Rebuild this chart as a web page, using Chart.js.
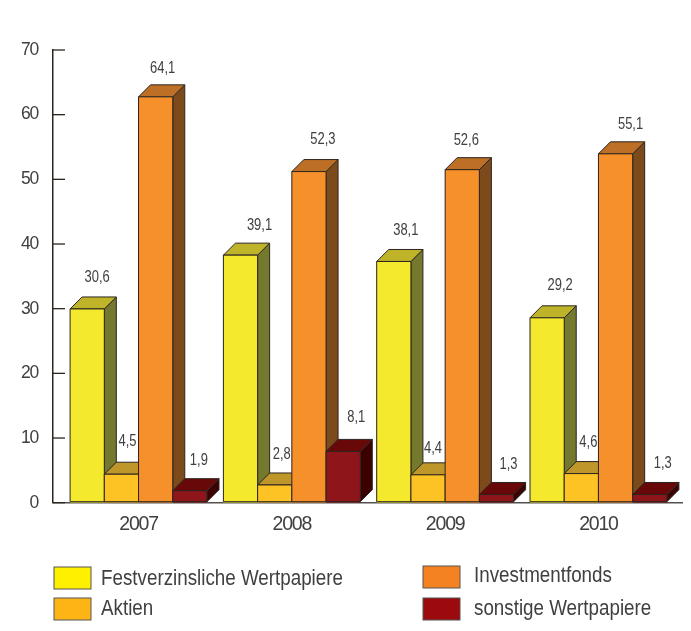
<!DOCTYPE html>
<html><head><meta charset="utf-8">
<style>html,body{margin:0;padding:0;background:#fff}canvas{display:block}</style>
<script src="https://cdn.jsdelivr.net/npm/chart.js@4/dist/chart.umd.min.js"></script>
</head><body>
<canvas id="c" width="691" height="631"></canvas>
<script>
const years = [2007, 2008, 2009, 2010];
const festverzinslich = [30.6, 39.1, 38.1, 29.2];
const aktien = [4.5, 2.8, 4.4, 4.6];
const investmentfonds = [64.1, 52.3, 52.6, 55.1];
const sonstige = [1.9, 8.1, 1.3, 1.3];
const yTicks = [0, 10, 20, 30, 40, 50, 60, 70];
const seriesNames = ['Festverzinsliche Wertpapiere', 'Aktien', 'Investmentfonds', 'sonstige Wertpapiere'];

const FONT = '"Liberation Sans",sans-serif';
const TEXT = '#404042';
const LINE = '#2b2520';
const DEPTH = 12;
const faces = [
  {front:'#f4e92c', top:'#bfb32a', side:'#74792d', swatch:'#fff000'},
  {front:'#fdc224', top:'#bf962a', side:'#7a6a20', swatch:'#fdb515'},
  {front:'#f6902a', top:'#bd6f26', side:'#7d4b1b', swatch:'#f58220'},
  {front:'#8e1519', top:'#690808', side:'#3c0202', swatch:'#9d0a0e'}
];
const legendSpots = [[54,567,101,579],[54,598,101,609],[423,566,474,576],[423,598,474,609]];
// label placement relative to the top of each bar, series by year: [dx, dy]
const labelShifts = [
  [[10,-31],[19,-30],[12,-31],[13,-32]],
  [[6,-33],[7,-30],[5,-26],[7,-31]],
  [[7,-28],[14,-32],[4,-29],[15,-29]],
  [[9,-30],[13,-34],[12,-30],[13,-31]]
];

function poly(ctx, pts, fill){
  ctx.beginPath();
  pts.forEach((p,i)=> i ? ctx.lineTo(p[0],p[1]) : ctx.moveTo(p[0],p[1]));
  ctx.closePath();
  ctx.fillStyle = fill; ctx.fill();
  ctx.lineWidth = 1; ctx.strokeStyle = LINE; ctx.stroke();
}
function narrowText(ctx, str, x, y, sx){
  ctx.save();
  ctx.translate(x,y);
  ctx.scale(sx,1);
  ctx.fillText(str,0,0);
  ctx.restore();
}

const bars3d = {
  id:'bars3d',
  beforeDraw(chart){ chart.ctx.letterSpacing = '-1.2px'; },
  afterDatasetsDraw(chart){
    const ctx = chart.ctx;
    ctx.save();
    ctx.letterSpacing = '0px';
    chart.data.datasets.forEach((ds,i)=>{
      chart.getDatasetMeta(i).data.forEach(el=>{
        const l = el.x - el.width/2, r = el.x + el.width/2, t = el.y, b = el.base - 1;
        const f = faces[i];
        poly(ctx, [[r,t],[r+DEPTH,t-DEPTH],[r+DEPTH,b-DEPTH],[r,b]], f.side);
        poly(ctx, [[l,t],[l+DEPTH,t-DEPTH],[r+DEPTH,t-DEPTH],[r,t]], f.top);
        poly(ctx, [[l,t],[r,t],[r,b],[l,b]], f.front);
      });
    });
    ctx.font = '16px '+FONT;
    ctx.fillStyle = TEXT;
    ctx.textAlign = 'center';
    ctx.textBaseline = 'middle';
    chart.data.datasets.forEach((ds,i)=>{
      chart.getDatasetMeta(i).data.forEach((el,k)=>{
        const s = labelShifts[i][k];
        narrowText(ctx, String(ds.data[k].y).replace('.',','), el.x + s[0], el.y + s[1], 0.81);
      });
    });
    const y = chart.scales.y, x0 = chart.chartArea.left;
    ctx.strokeStyle = LINE; ctx.lineWidth = 1.3;
    y.ticks.forEach((t,k)=>{
      const p = y.getPixelForTick(k);
      ctx.beginPath(); ctx.moveTo(x0,p); ctx.lineTo(x0+12,p); ctx.stroke();
    });
    ctx.textAlign = 'left';
    ctx.font = '21.5px '+FONT;
    seriesNames.forEach((n,i)=>{
      const s = legendSpots[i];
      ctx.fillStyle = faces[i].swatch;
      ctx.fillRect(s[0],s[1],37,22);
      ctx.strokeStyle = '#555'; ctx.lineWidth = 1;
      ctx.strokeRect(s[0],s[1],37,22);
      ctx.fillStyle = TEXT;
      narrowText(ctx, n, s[2], s[3], 0.874);
    });
    ctx.restore();
  }
};

const pairs = arr => arr.map((v,i)=>({x:years[i], y:v}));
const datasets = [festverzinslich, aktien, investmentfonds, sonstige].map((arr,i)=>({
  label: seriesNames[i],
  data: pairs(arr),
  yAxisID: 'bars',
  backgroundColor: faces[i].front,
  barPercentage: 1,
  categoryPercentage: 0.893
}));

new Chart(document.getElementById('c'), {
  type:'bar',
  data:{datasets},
  plugins:[bars3d],
  options:{
    responsive:false,
    animation:false,
    devicePixelRatio:1,
    layout:{padding:{left:0,right:9,top:50,bottom:0}},
    plugins:{legend:{display:false},tooltip:{enabled:false},title:{display:false}},
    scales:{
      x:{
        type:'linear',
        min:2006.442, max:2010.545,
        offset:false,
        grid:{drawOnChartArea:false,drawTicks:false},
        border:{color:'#55504c',width:1.5},
        afterFit(s){s.height = 128.3;},
        ticks:{stepSize:1,includeBounds:false,padding:10,maxRotation:0,autoSkip:false,
          color:TEXT,font:{family:FONT,size:19.5},callback:v=>String(v)}
      },
      y:{
        min:0,max:70,
        grid:{drawOnChartArea:false,drawTicks:false},
        border:{color:LINE,width:1.5},
        afterFit(s){s.width = 53;},
        afterBuildTicks(s){s.ticks = yTicks.map(v=>({value:v}));},
        ticks:{padding:15,color:TEXT,font:{family:FONT,size:17.5}}
      },
      bars:{display:false,min:0,max:71.5}
    }
  }
});
</script>
</body></html>
